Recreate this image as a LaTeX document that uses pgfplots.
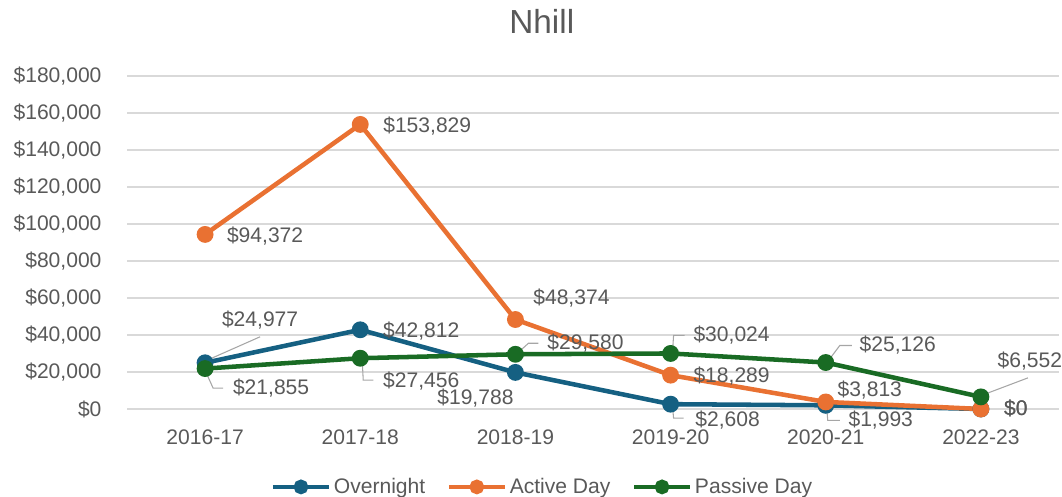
\documentclass[border=0pt]{standalone}
\usepackage{fontspec}
\setmainfont{Liberation Sans}
\usepackage{pgfplots}
\pgfplotsset{compat=1.18}
\definecolor{cOver}{HTML}{156082}
\definecolor{cAct}{HTML}{E97132}
\definecolor{cPas}{HTML}{196B24}
\definecolor{txt}{HTML}{595959}
\definecolor{grid}{HTML}{D9D9D9}
\definecolor{lead}{HTML}{A6A6A6}
\begin{document}
\begin{tikzpicture}[
  lbl/.style={font=\fontsize{15.8}{18}\selectfont, text=txt, anchor=center, inner sep=0pt, text height=11pt, text depth=1.5pt},
  leader/.style={draw=lead, line width=0.8pt}]
\begin{axis}[
  name=ax,
  scale only axis,
  width=698.25pt, height=249.75pt,
  xmin=-0.5, xmax=5.5, ymin=0, ymax=180000,
  scaled y ticks=false,
  axis line style={draw=none},
  major tick length=0pt,
  ymajorgrids, grid style={draw=grid, line width=1.1pt},
  xtick={0,1,2,3,4,5},
  xticklabels={2016-17,2017-18,2018-19,2019-20,2020-21,2022-23},
  ytick={0,20000,40000,60000,80000,100000,120000,140000,160000,180000},
  yticklabels={{\$0},{\$20,000},{\$40,000},{\$60,000},{\$80,000},{\$100,000},{\$120,000},{\$140,000},{\$160,000},{\$180,000}},
  ticklabel style={font=\fontsize{15.8}{18}\selectfont, text=txt},
  yticklabel style={xshift=-16pt},
  xticklabel style={yshift=-12pt},
  title={Nhill},
  title style={font=\fontsize{25}{30}\selectfont, text=txt, at={(0.445,1)}, anchor=center, yshift=35pt},
  legend style={at={(0.446,-0.234)}, anchor=center, draw=none, fill=none,
    font=\fontsize{15.8}{18}\selectfont, text=txt, legend columns=3,
    /tikz/every even column/.append style={column sep=14pt},
    legend cell align=left, inner sep=0pt},
  legend image code/.code={\draw[mark repeat=2,mark phase=2, mark size=3.8pt] plot coordinates {(0pt,0pt)(21pt,0pt)(42pt,0pt)};},
  every axis plot/.append style={line width=3.4pt, mark=*, mark size=4.6pt, mark options={solid}},
  clip=false,
]
\addplot[color=cOver] coordinates {(0,24977)(1,42812)(2,19788)(3,2608)(4,1993)(5,0)};
\addlegendentry{Overnight}
\addplot[color=cAct] coordinates {(0,94372)(1,153829)(2,48374)(3,18289)(4,3813)(5,0)};
\addlegendentry{Active Day}
\addplot[color=cPas] coordinates {(0,21855)(1,27456)(2,29580)(3,30024)(4,25126)(5,6552)};
\addlegendentry{Passive Day}

% leader lines
\draw[leader] (axis cs:0,24977) ++(2.25pt,2.25pt) -- ++(39pt,17.25pt);
\draw[leader] (axis cs:3,2608) ++(1.5pt,-2.25pt) -- ++(0.75pt,-8.25pt) -- ++(7.5pt,0pt);
\draw[leader] (axis cs:4,1993) ++(0.75pt,-2.25pt) -- ++(0.75pt,-9pt) -- ++(9pt,0pt);
\draw[leader] (axis cs:0,21855) ++(0.75pt,-3pt) -- ++(5.25pt,-11.6pt) -- ++(7.5pt,0pt);
\draw[leader] (axis cs:1,27456) ++(1.5pt,-2.25pt) -- ++(0.75pt,-14.25pt) -- ++(7.5pt,0pt);
\draw[leader] (axis cs:2,29580) ++(2.25pt,1.5pt) -- ++(7.5pt,6.75pt) -- ++(7.5pt,0pt);
\draw[leader] (axis cs:3,30024) ++(1.5pt,2.25pt) -- ++(0.75pt,11.25pt) -- ++(8.25pt,0pt);
\draw[leader] (axis cs:4,25126) ++(1.5pt,0.75pt) -- ++(9pt,12pt) -- ++(9pt,0pt);
\draw[leader] (axis cs:5,6552) ++(1.5pt,1.5pt) -- ++(33.75pt,12.75pt);

% data labels: Overnight
\node[lbl] at (axis cs:0,24977) [xshift=41.25pt, yshift=32.25pt] {\$24,977};
\node[lbl] at (axis cs:1,42812) [xshift=45.75pt, yshift=-0.75pt] {\$42,812};
\node[lbl] at (axis cs:2,19788) [xshift=-30pt, yshift=-19.5pt] {\$19,788};
\node[lbl] at (axis cs:3,2608) [xshift=42.75pt, yshift=-12pt] {\$2,608};
\node[lbl] at (axis cs:4,1993) [xshift=41.25pt, yshift=-11.25pt] {\$1,993};
\node[lbl] at (axis cs:5,0) [xshift=26.25pt, yshift=0pt] {\$0};
% Active Day
\node[lbl] at (axis cs:0,94372) [xshift=45pt, yshift=-1.1pt] {\$94,372};
\node[lbl] at (axis cs:1,153829) [xshift=50.25pt, yshift=-1.1pt] {\$153,829};
\node[lbl] at (axis cs:2,48374) [xshift=42pt, yshift=15.75pt] {\$48,374};
\node[lbl] at (axis cs:3,18289) [xshift=45.75pt, yshift=-0.75pt] {\$18,289};
\node[lbl] at (axis cs:4,3813) [xshift=33pt, yshift=9pt] {\$3,813};
\node[lbl] at (axis cs:5,0) [xshift=26.25pt, yshift=0pt] {\$0};
% Passive Day
\node[lbl] at (axis cs:0,21855) [xshift=49.5pt, yshift=-15pt] {\$21,855};
\node[lbl] at (axis cs:1,27456) [xshift=45.75pt, yshift=-17.25pt] {\$27,456};
\node[lbl] at (axis cs:2,29580) [xshift=52.5pt, yshift=8.25pt] {\$29,580};
\node[lbl] at (axis cs:3,30024) [xshift=45.75pt, yshift=13.5pt] {\$30,024};
\node[lbl] at (axis cs:4,25126) [xshift=54pt, yshift=12.75pt] {\$25,126};
\node[lbl] at (axis cs:5,6552) [xshift=36.75pt, yshift=27pt] {\$6,552};
\end{axis}
\pgfresetboundingbox
\path[use as bounding box] (ax.south west) ++(-95.625pt,-65.25pt) rectangle ++(796.5pt,372pt);
\end{tikzpicture}
\end{document}
